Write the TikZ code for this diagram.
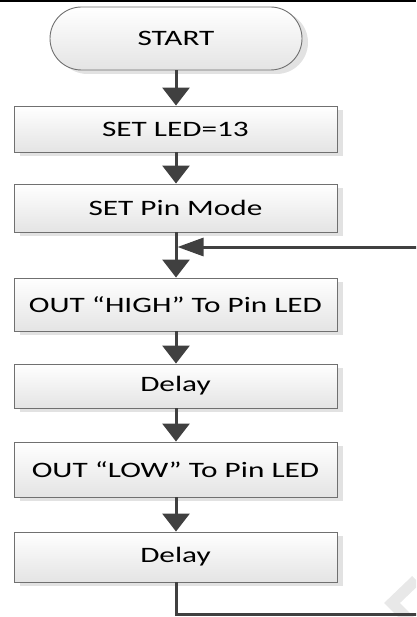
\documentclass[tikz,border=0pt]{standalone}
\usepackage{fontspec}
\setmainfont{Carlito}
\usetikzlibrary{arrows.meta,shadows,calc}

\definecolor{linegray}{HTML}{404040}
\definecolor{framegray}{HTML}{707070}
\definecolor{shadegray}{HTML}{E4E4E4}
\definecolor{shadowgray}{HTML}{E2E2E2}

% wide lettering used in every box
\newcommand{\boxtext}[1]{\scalebox{1.42}[1]{#1}}

\tikzset{
  stepbox/.style={draw=framegray, line width=0.9pt, top color=white, bottom color=shadegray,
    minimum width=323pt, inner sep=0pt, font=\fontsize{22}{26}\selectfont,
    drop shadow={shadow xshift=6pt, shadow yshift=-4pt, fill=shadowgray, opacity=1}},
  termbox/.style={stepbox, minimum width=252pt, minimum height=63pt, rounded corners=31.5pt},
  flow/.style={draw=linegray, line width=3pt, -{Triangle[width=27pt,length=18pt]}},
  back/.style={draw=linegray, line width=3pt, -{Triangle[width=18pt,length=26pt]}}
}

\begin{document}
\begin{tikzpicture}[x=1pt,y=-1pt]
  \useasboundingbox (0,0) rectangle (416,617);
  \begin{scope}
    \clip (0,0) rectangle (416,617);
    % faint chevron at the lower right corner
    \draw[black!9, line width=11pt] (416,580) -- (392,603) -- (414,625);
    % rule along the top edge
    \draw[black, line width=2pt] (0,1) -- (416,1);

    \node[termbox] (start) at (176,38.5) {\boxtext{START}};
    \node[stepbox, minimum height=46pt] (led)   at (175.5,129)   {\boxtext{SET LED=13}};
    \node[stepbox, minimum height=48pt] (mode)  at (175.5,208)   {\boxtext{SET Pin Mode}};
    \node[stepbox, minimum height=53pt] (high)  at (175.5,304.5) {\boxtext{OUT “HIGH” To Pin LED}};
    \node[stepbox, minimum height=44pt] (d1)    at (175.5,386)   {\boxtext{Delay}};
    \node[stepbox, minimum height=55pt] (low)   at (175.5,469.5) {\boxtext{OUT “LOW” To Pin LED}};
    \node[stepbox, minimum height=50pt] (d2)    at (175.5,557)   {\boxtext{Delay}};

    \draw[flow] (start.south -| 176,0) -- (led.north -| 176,0);
    \draw[flow] (led.south -| 176,0) -- (mode.north -| 176,0);
    \draw[flow] (mode.south -| 176,0) -- (high.north -| 176,0);
    \draw[flow] (high.south -| 176,0) -- (d1.north -| 176,0);
    \draw[flow] (d1.south -| 176,0) -- (low.north -| 176,0);
    \draw[flow] (low.south -| 176,0) -- (d2.north -| 176,0);

    % loop back from the last delay to the point below the pin mode step
    \coordinate (rb) at (422,614);
    \coordinate (rt) at (422,247);
    \coordinate (join) at (177.5,247);
    \draw[back] (d2.south -| 176,0) |- (rb) -- (rt) -- (join);
  \end{scope}
\end{tikzpicture}
\end{document}
